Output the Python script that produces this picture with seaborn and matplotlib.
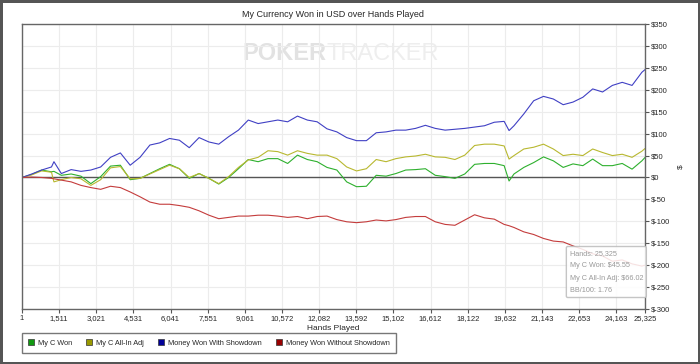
import pandas as pd
import matplotlib
matplotlib.use("Agg")
import matplotlib.pyplot as plt
import seaborn as sns
from matplotlib.patches import Patch

# Data
hands = [1, 400, 800, 1200, 1300, 1600, 2000, 2400, 2800, 3200,
         3600, 4000, 4400, 4800, 5200, 5600, 6000, 6400, 6800, 7200,
         7600, 8000, 8400, 8800, 9200, 9600, 10000, 10400, 10800, 11200,
         11600, 12000, 12400, 12800, 13200, 13600, 14000, 14400, 14800, 15200,
         15600, 16000, 16400, 16800, 17200, 17600, 18000, 18400, 18800, 19200,
         19600, 19800, 20000, 20400, 20800, 21200, 21600, 22000, 22400, 22800,
         23200, 23600, 24000, 24400, 24800, 25200, 25325]

my_c_won = [0, 7, 17, 13, 14, 5, 8, 3, -14, 2,
            26, 28, -5, -2, 9, 20, 30, 20, -2, 9,
            -2, -15, 0, 20, 41, 36, 43, 43, 32, 51,
            41, 36, 23, 17, -10, -21, -20, 5, 3, 9,
            17, 18, 20, 5, 2, -2, 8, 30, 32, 32,
            27, -8, 8, 23, 34, 47, 38, 23, 31, 27,
            42, 27, 27, 32, 19, 38, 45.55]

my_c_allin = [0, 6, 15, 12, -10, -5, 0, -3, -18, -5,
              22, 25, -3, -2, 8, 18, 28, 20, 0, 9,
              -2, -14, 2, 23, 40, 46, 61, 59, 51, 61,
              55, 51, 51, 43, 24, 15, 20, 41, 36, 43,
              47, 49, 53, 47, 46, 41, 51, 73, 76, 76,
              72, 42, 50, 65, 69, 76, 65, 50, 53, 50,
              65, 57, 50, 53, 46, 60, 66.02]

won_showdown = [0, 8, 17, 24, 36, 9, 18, 14, 17, 24,
                46, 56, 28, 46, 74, 79, 89, 85, 68, 91,
                81, 76, 93, 108, 131, 123, 127, 131, 127, 140,
                131, 127, 111, 104, 91, 84, 84, 102, 104, 108,
                108, 112, 119, 112, 108, 110, 112, 115, 118, 126,
                128, 107, 118, 145, 175, 185, 179, 166, 172, 183,
                202, 195, 210, 217, 210, 240, 246]

won_no_showdown = [0, 1, 0, -2, -3, -6, -10, -18, -23, -27,
                   -20, -23, -33, -44, -56, -61, -61, -64, -68, -76,
                   -86, -94, -91, -88, -88, -86, -86, -88, -91, -89,
                   -94, -89, -88, -96, -101, -103, -101, -97, -99, -96,
                   -91, -89, -89, -101, -107, -109, -97, -85, -92, -95,
                   -107, -110, -114, -124, -130, -139, -145, -147, -156, -164,
                   -174, -179, -191, -188, -197, -202, -200]

series_names = ["My C Won", "My C All-In Adj", "Money Won With Showdown", "Money Won Without Showdown"]
line_colors = ["#2eb02e", "#b8b830", "#4040c4", "#c43c3c"]
legend_colors = ["#119911", "#999900", "#000099", "#990000"]

x_ticks = [1, 1511, 3021, 4531, 6041, 7551, 9061, 10572, 12082, 13592,
           15102, 16612, 18122, 19632, 21143, 22653, 24163, 25325]
y_ticks = list(range(-300, 351, 50))

df = pd.DataFrame({
    "Hands": hands * 4,
    "Value": my_c_won + my_c_allin + won_showdown + won_no_showdown,
    "Series": sum([[n] * len(hands) for n in series_names], []),
})

# Style
sns.set_style("white")
plt.rcParams["font.family"] = ["Liberation Sans", "DejaVu Sans"]

fig = plt.figure(figsize=(7, 3.64), dpi=100)
fig.patch.set_edgecolor("#555555")
fig.patch.set_linewidth(2.5)
ax = fig.add_axes([0.0314, 0.151, 0.89, 0.783])

ax.grid(True, color="#ececec", lw=0.8)
ax.set_axisbelow(True)

# Watermark
ax.text(0.488, 0.895, "POKER", transform=ax.transAxes, fontsize=17, fontweight="bold",
        color="#e2e2e2", ha="right", va="center", zorder=0)
ax.text(0.488, 0.895, "TRACKER", transform=ax.transAxes, fontsize=17,
        color="#eeeeee", ha="left", va="center", zorder=0)

ax.axhline(0, color="#555555", lw=1, zorder=1)

sns.lineplot(data=df, x="Hands", y="Value", hue="Series", hue_order=series_names,
             palette=line_colors, lw=0.8, legend=False, ax=ax, zorder=2)

ax.set_xlim(1, 25325)
ax.set_ylim(-300, 350)
ax.set_xticks(x_ticks)
ax.set_xticklabels([f"{t:,}" for t in x_ticks])
ax.set_yticks(y_ticks)
ax.set_yticklabels([f"${t}" for t in y_ticks])
ax.yaxis.tick_right()
ax.yaxis.set_label_position("right")
ax.tick_params(axis="both", labelsize=5.5, length=3, width=0.8, color="#555555", pad=1.5)
ax.tick_params(axis="x", bottom=True)
ax.tick_params(axis="y", right=True)
for s in ax.spines.values():
    s.set_color("#666666")
    s.set_linewidth(1)

ax.set_xlabel("Hands Played", fontsize=6, labelpad=2)
ax.set_ylabel("$", fontsize=6, labelpad=5)
ax.set_title("My Currency Won in USD over Hands Played", fontsize=6.5, pad=5)

# Info box
ax.text(0.879, 0.208, "Hands: 25,325\nMy C Won: $45.55\nMy C All-In Adj: $66.02\nBB/100: 1.76",
        transform=ax.transAxes, va="top", ha="left", fontsize=5.2, color="#999999",
        linespacing=2.1,
        bbox=dict(boxstyle="round,pad=0.45,rounding_size=0.2", fc="white", ec="#bbbbbb", alpha=0.85),
        zorder=5)

handles = [Patch(facecolor=c, edgecolor="#333333", lw=0.5) for c in legend_colors]
fig.legend(handles, series_names, loc="lower left", bbox_to_anchor=(0.0314, 0.0302),
           ncol=4, fontsize=5.3, frameon=True, fancybox=False, edgecolor="#555555",
           handlelength=0.8, handleheight=0.8, handletextpad=0.55, columnspacing=1.9,
           borderpad=0.85, borderaxespad=0)

fig.savefig("out.png", dpi=100)
